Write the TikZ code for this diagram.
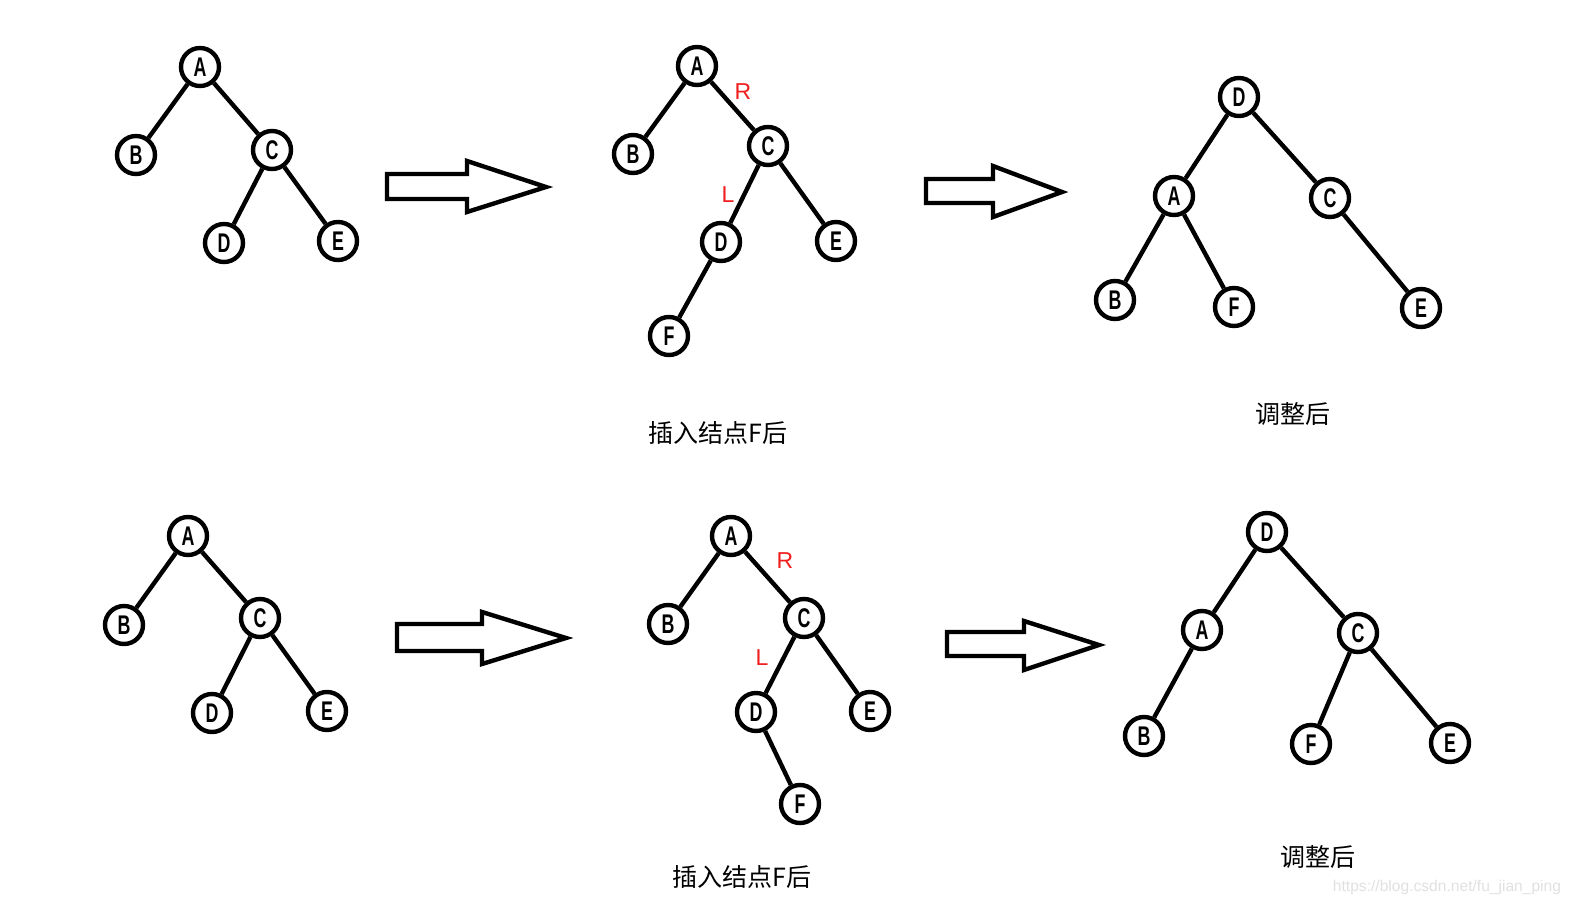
\documentclass[tikz,border=0pt]{standalone}
\usepackage{fontspec}
\setmainfont{Liberation Sans}
\newfontfamily\cjk{Noto Sans CJK SC}
\newcommand\nodelet[1]{\raisebox{-2.5pt}{\scalebox{0.66}[1]{\bfseries #1}}}
\begin{document}
\begin{tikzpicture}[x=0.5pt,y=-0.5pt,
  tn/.style={circle,draw,line width=2.2pt,minimum size=19pt,inner sep=0pt,fill=white,
    font=\fontsize{13.5}{13.5}\selectfont},
  edge/.style={line width=2.2pt},
  bigarrow/.style={draw,line width=2.2pt,line join=miter,fill=white},
  lab/.style={text={rgb,255:red,240;green,30;blue,30},font=\fontsize{11.5}{11.5}\selectfont,inner sep=0pt},
  capt/.style={font=\cjk\fontsize{12.5}{13}\selectfont,inner sep=0pt},
  wm/.style={text={rgb,255:red,225;green,225;blue,225},font=\fontsize{7.8}{7.8}\selectfont,inner sep=0pt}]
\useasboundingbox[fill=white] (0,0) rectangle (1574,909);

% ---------- tree 1 ----------
\node[tn] (a1) at (200,67) {\nodelet{A}};
\node[tn] (b1) at (136,155) {\nodelet{B}};
\node[tn] (c1) at (272,150) {\nodelet{C}};
\node[tn] (d1) at (224,243) {\nodelet{D}};
\node[tn] (e1) at (338,241) {\nodelet{E}};
\draw[edge] (a1) -- (b1);
\draw[edge] (a1) -- (c1);
\draw[edge] (c1) -- (d1);
\draw[edge] (c1) -- (e1);

% ---------- tree 2 ----------
\node[tn] (a2) at (697,66) {\nodelet{A}};
\node[tn] (b2) at (633,154) {\nodelet{B}};
\node[tn] (c2) at (768,146) {\nodelet{C}};
\node[tn] (d2) at (721,242) {\nodelet{D}};
\node[tn] (e2) at (836,241) {\nodelet{E}};
\node[tn] (f2) at (669,336) {\nodelet{F}};
\draw[edge] (a2) -- (b2);
\draw[edge] (a2) -- (c2);
\draw[edge] (c2) -- (d2);
\draw[edge] (c2) -- (e2);
\draw[edge] (d2) -- (f2);
\node[lab] (r2) at (743,92) {R};
\node[lab] (l2) at (728,195) {L};

% ---------- tree 3 ----------
\node[tn] (d3) at (1239,97) {\nodelet{D}};
\node[tn] (a3) at (1174,196) {\nodelet{A}};
\node[tn] (c3) at (1330,198) {\nodelet{C}};
\node[tn] (b3) at (1115,300) {\nodelet{B}};
\node[tn] (f3) at (1234,307) {\nodelet{F}};
\node[tn] (e3) at (1421,308) {\nodelet{E}};
\draw[edge] (d3) -- (a3);
\draw[edge] (d3) -- (c3);
\draw[edge] (a3) -- (b3);
\draw[edge] (a3) -- (f3);
\draw[edge] (c3) -- (e3);

% ---------- tree 5 (bottom left) ----------
\node[tn] (a5) at (188,536) {\nodelet{A}};
\node[tn] (b5) at (124,625) {\nodelet{B}};
\node[tn] (c5) at (260,618) {\nodelet{C}};
\node[tn] (d5) at (212,713) {\nodelet{D}};
\node[tn] (e5) at (327,711) {\nodelet{E}};
\draw[edge] (a5) -- (b5);
\draw[edge] (a5) -- (c5);
\draw[edge] (c5) -- (d5);
\draw[edge] (c5) -- (e5);

% ---------- tree 6 ----------
\node[tn] (a6) at (731,536) {\nodelet{A}};
\node[tn] (b6) at (668,624) {\nodelet{B}};
\node[tn] (c6) at (804,618) {\nodelet{C}};
\node[tn] (d6) at (756,712) {\nodelet{D}};
\node[tn] (e6) at (870,711) {\nodelet{E}};
\node[tn] (f6) at (800,804) {\nodelet{F}};
\draw[edge] (a6) -- (b6);
\draw[edge] (a6) -- (c6);
\draw[edge] (c6) -- (d6);
\draw[edge] (c6) -- (e6);
\draw[edge] (d6) -- (f6);
\node[lab] (r6) at (785,561) {R};
\node[lab] (l6) at (762,658) {L};

% ---------- tree 4 (bottom right) ----------
\node[tn] (d4) at (1267,532) {\nodelet{D}};
\node[tn] (a4) at (1202,630) {\nodelet{A}};
\node[tn] (c4) at (1358,633) {\nodelet{C}};
\node[tn] (b4) at (1144,736) {\nodelet{B}};
\node[tn] (f4) at (1311,744) {\nodelet{F}};
\node[tn] (e4) at (1450,743) {\nodelet{E}};
\draw[edge] (d4) -- (a4);
\draw[edge] (d4) -- (c4);
\draw[edge] (a4) -- (b4);
\draw[edge] (c4) -- (f4);
\draw[edge] (c4) -- (e4);

% ---------- big arrows ----------
\draw[bigarrow] (387,174) -- (467,174) -- (467,161) -- (546,187) -- (467,212) -- (467,199) -- (387,199) -- cycle;
\draw[bigarrow] (926,179) -- (993,179) -- (993,166) -- (1062,192) -- (993,217) -- (993,203) -- (926,203) -- cycle;
\draw[bigarrow] (397,624) -- (482,624) -- (482,612) -- (566,638) -- (482,664) -- (482,651) -- (397,651) -- cycle;
\draw[bigarrow] (947,632) -- (1024,632) -- (1024,621) -- (1099,645) -- (1024,670) -- (1024,656) -- (947,656) -- cycle;

% ---------- captions ----------
\node[capt] (t1) at (718,433) {插入结点F后};
\node[capt] (t2) at (1293,414) {调整后};
\node[capt] (t3) at (742,877) {插入结点F后};
\node[capt] (t4) at (1318,857) {调整后};
\node[wm] (w) at (1447,887) {https://blog.csdn.net/fu\_jian\_ping};
\end{tikzpicture}
\end{document}
